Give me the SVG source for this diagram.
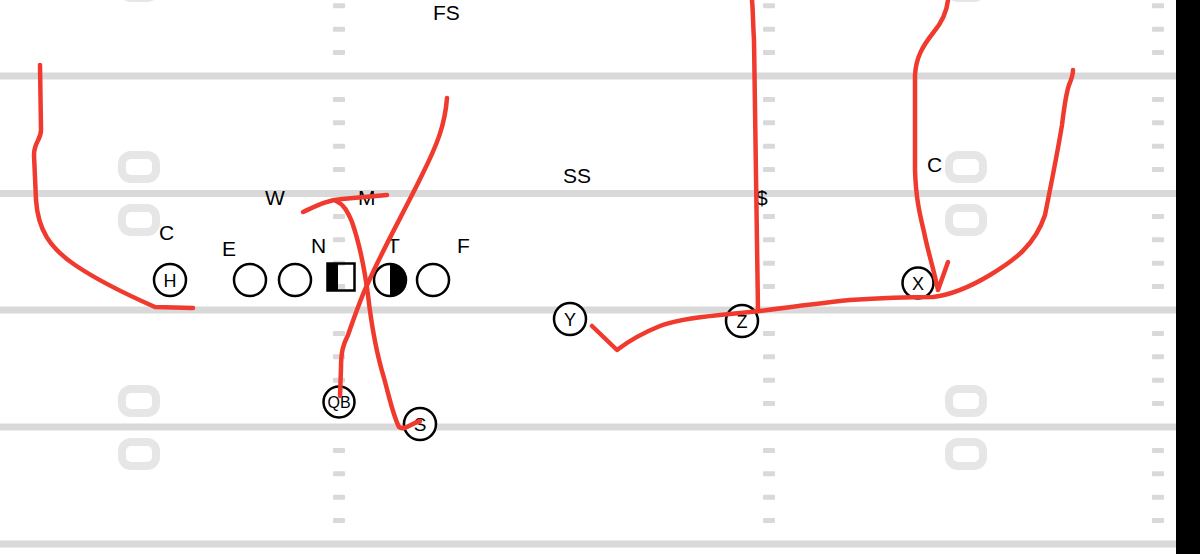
<svg xmlns="http://www.w3.org/2000/svg" width="1200" height="554" viewBox="0 0 1200 554">
<defs>
<style>
.yl{fill:#d9d9d9}
.hs{fill:#d9d9d9}
.zr{fill:none;stroke:#e6e6e6;stroke-width:8}
.pl{fill:#fff;stroke:#000;stroke-width:2.5}
.lb{font-family:"Liberation Sans",Arial,sans-serif;font-size:21px;fill:#000}
.pt{font-family:"Liberation Sans",Arial,sans-serif;font-size:18px;fill:#000;text-anchor:middle}
.rt{fill:none;stroke:#f03a2e;stroke-width:4.5;stroke-linecap:round;stroke-linejoin:round}
</style>
<rect id="hash" width="12" height="5" rx="1"/>
<rect id="zero" width="34" height="24" rx="9"/>
</defs>
<rect width="1200" height="554" fill="#fff"/>
<g id="field">
<rect class="yl" x="0" y="72.5" width="1176" height="7"/>
<rect class="yl" x="0" y="190" width="1176" height="7"/>
<rect class="yl" x="0" y="306.5" width="1176" height="7"/>
<rect class="yl" x="0" y="423.5" width="1176" height="7"/>
<rect class="yl" x="0" y="540.5" width="1176" height="7"/>
<g class="hs">
<use href="#hash" x="333" y="3.3"/><use href="#hash" x="333" y="26.7"/><use href="#hash" x="333" y="50.1"/>
<use href="#hash" x="333" y="96.9"/><use href="#hash" x="333" y="120.3"/><use href="#hash" x="333" y="143.7"/><use href="#hash" x="333" y="167.1"/>
<use href="#hash" x="333" y="213.9"/><use href="#hash" x="333" y="237.3"/><use href="#hash" x="333" y="260.7"/><use href="#hash" x="333" y="284.1"/>
<use href="#hash" x="333" y="330.9"/><use href="#hash" x="333" y="354.3"/><use href="#hash" x="333" y="377.7"/><use href="#hash" x="333" y="401.1"/>
<use href="#hash" x="333" y="447.9"/><use href="#hash" x="333" y="471.3"/><use href="#hash" x="333" y="494.7"/><use href="#hash" x="333" y="518.1"/>
<use href="#hash" x="763" y="3.3"/><use href="#hash" x="763" y="26.7"/><use href="#hash" x="763" y="50.1"/>
<use href="#hash" x="763" y="96.9"/><use href="#hash" x="763" y="120.3"/><use href="#hash" x="763" y="143.7"/><use href="#hash" x="763" y="167.1"/>
<use href="#hash" x="763" y="213.9"/><use href="#hash" x="763" y="237.3"/><use href="#hash" x="763" y="260.7"/><use href="#hash" x="763" y="284.1"/>
<use href="#hash" x="763" y="330.9"/><use href="#hash" x="763" y="354.3"/><use href="#hash" x="763" y="377.7"/><use href="#hash" x="763" y="401.1"/>
<use href="#hash" x="763" y="447.9"/><use href="#hash" x="763" y="471.3"/><use href="#hash" x="763" y="494.7"/><use href="#hash" x="763" y="518.1"/>
<use href="#hash" x="1152" y="3.3"/><use href="#hash" x="1152" y="26.7"/><use href="#hash" x="1152" y="50.1"/>
<use href="#hash" x="1152" y="96.9"/><use href="#hash" x="1152" y="120.3"/><use href="#hash" x="1152" y="143.7"/><use href="#hash" x="1152" y="167.1"/>
<use href="#hash" x="1152" y="213.9"/><use href="#hash" x="1152" y="237.3"/><use href="#hash" x="1152" y="260.7"/><use href="#hash" x="1152" y="284.1"/>
<use href="#hash" x="1152" y="330.9"/><use href="#hash" x="1152" y="354.3"/><use href="#hash" x="1152" y="377.7"/><use href="#hash" x="1152" y="401.1"/>
<use href="#hash" x="1152" y="447.9"/><use href="#hash" x="1152" y="471.3"/><use href="#hash" x="1152" y="494.7"/><use href="#hash" x="1152" y="518.1"/>
</g>
<g class="zr">
<use href="#zero" x="122" y="-26"/>
<use href="#zero" x="122" y="155"/><use href="#zero" x="122" y="208"/>
<use href="#zero" x="122" y="389"/><use href="#zero" x="122" y="442"/>
<use href="#zero" x="949" y="-26"/>
<use href="#zero" x="949" y="155"/><use href="#zero" x="949" y="208"/>
<use href="#zero" x="949" y="389"/><use href="#zero" x="949" y="442"/>
</g>
<rect x="1176" y="0" width="24" height="554" fill="#000"/>
</g>
<g id="defense">
<text class="lb" x="433" y="20">FS</text>
<text class="lb" x="563" y="183">SS</text>
<text class="lb" x="265" y="205">W</text>
<text class="lb" x="358" y="205">M</text>
<text class="lb" x="159" y="240">C</text>
<text class="lb" x="222" y="256">E</text>
<text class="lb" x="311" y="253">N</text>
<text class="lb" x="387" y="253">T</text>
<text class="lb" x="457" y="253">F</text>
<text class="lb" x="927" y="172">C</text>
<text class="lb" x="756" y="205">$</text>
</g>
<g id="player-H"><circle class="pl" cx="170" cy="280" r="16"/><text class="pt" x="170" y="286.5">H</text></g>
<g id="player-LT"><circle class="pl" cx="250" cy="280" r="16"/></g>
<g id="player-LG"><circle class="pl" cx="295" cy="280" r="16"/></g>
<g id="player-C"><rect x="327.5" y="263.5" width="27" height="27" fill="none" stroke="#000" stroke-width="2.5"/><rect x="327" y="263" width="11" height="28" fill="#000"/></g>
<g id="player-RG"><circle class="pl" cx="390" cy="280" r="16"/><path d="M390,264 A16,16 0 0 1 390,296 Z" fill="#000"/></g>
<g id="player-RT"><circle class="pl" cx="433" cy="280" r="16"/></g>
<g id="player-QB"><circle class="pl" cx="339" cy="402" r="15.5"/><text class="pt" x="339" y="408" style="font-size:16px">QB</text></g>
<g id="player-S"><circle class="pl" cx="420" cy="424" r="16"/><text class="pt" x="420" y="430.5" style="font-size:19px">S</text></g>
<g id="player-Y"><circle class="pl" cx="570" cy="319" r="16"/><text class="pt" x="570" y="325.5">Y</text></g>
<g id="player-Z"><circle class="pl" cx="742" cy="321" r="16"/><text class="pt" x="742" y="327.5">Z</text></g>
<g id="player-X"><circle class="pl" cx="918" cy="283" r="15.5"/><text class="pt" x="918" y="289.5">X</text></g>
<g id="connectors">
<path class="rt" d="M40,65 L41,130 C41,140 34,142 34,155 L36,200 C38,230 50,248 75,265 C100,282 130,296 155,307 L193,308"/>
<path class="rt" d="M340,396 L341,368 C341,352 343,345 348,335 C356,312 362,295 368,283 C385,245 405,210 422,175 C437,145 445,125 447,98"/>
<path class="rt" d="M303,212 C318,205 328,200 342,199 L387,195"/>
<path class="rt" d="M420,421 C410,424 404,431 399,427 C393,415 390,400 384,378 C377,355 372,330 368,295 C364,265 360,245 352,222 C347,210 343,204 336,201"/>
<path class="rt" d="M592,326 L617,350 C630,340 645,332 660,326 C675,320 700,317 720,315 L760,311 C790,307 820,303 850,300 C880,298 920,297 933,297 C950,295 970,287 990,275 C1015,260 1035,245 1045,215 C1052,180 1058,150 1062,125 C1065,100 1068,88 1069,85 C1072,78 1073,73 1073,70"/>
<path class="rt" d="M758,311 L754,40 C753,25 753,10 752,0"/>
<path class="rt" d="M948,0 C947,10 944,20 933,33 C922,47 916,58 915,75 L915,170 C916,200 920,215 924,232 C928,252 934,270 938,290 L948,262"/>
</g>
</svg>
